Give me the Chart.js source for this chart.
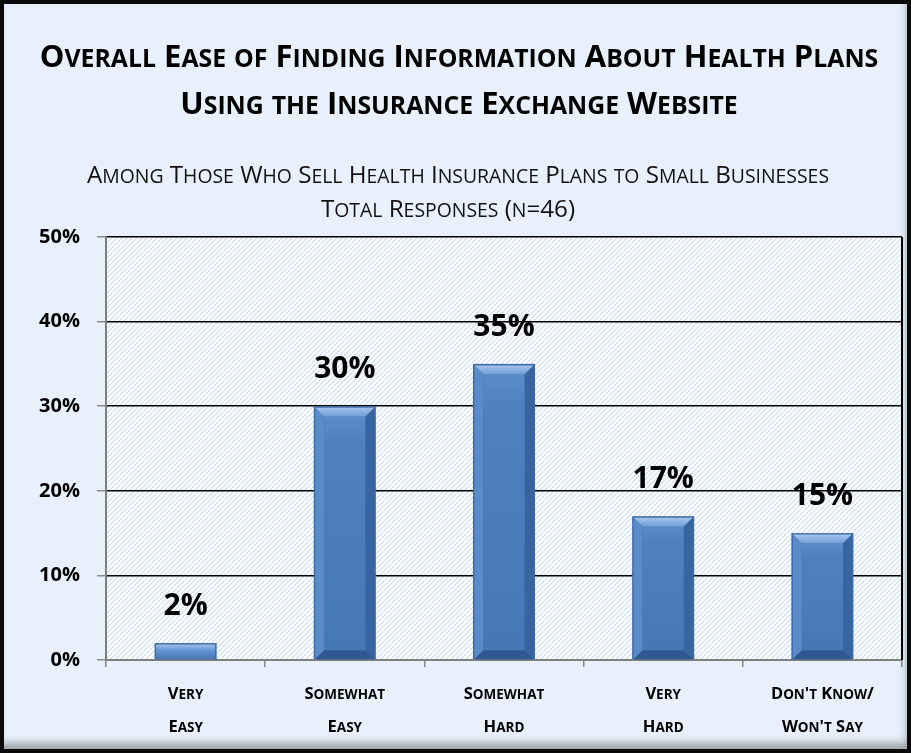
<!DOCTYPE html>
<html>
<head>
<meta charset="utf-8">
<script src="https://cdn.jsdelivr.net/npm/chart.js@4.4.1/dist/chart.umd.min.js"></script>
<style>
  body { margin: 0; background: #fff; }
  #frame {
    position: absolute; left: 0; top: 0; width: 911px; height: 753px;
    box-sizing: border-box; border: 4px solid #0a0a0a;
    background: #e8f1fb;
    box-shadow: inset -3px -9px 9px -3px rgba(60, 60, 60, 0.45);
  }
  canvas { position: absolute; left: 0; top: 0; }
</style>
</head>
<body>
<div id="frame"></div>
<canvas id="grafico" width="911" height="753"></canvas>
<script>
// Categorias e valores (%)
const categorias = [
  ['Very', 'Easy'],
  ['Somewhat', 'Easy'],
  ['Somewhat', 'Hard'],
  ['Very', 'Hard'],
  ["Don't Know/", "Won't Say"]
];
const percentuais = [2, 30, 35, 17, 15];
const tituloLinhas = ['Overall Ease of Finding Information About Health Plans', 'Using the Insurance Exchange Website'];
const subtituloLinhas = ['Among Those Who Sell Health Insurance Plans to Small Businesses', 'Total Responses (n=46)'];
const eixoY = { min: 0, max: 50, passo: 10 };

const FONTE = "'Open Sans', 'DejaVu Sans', sans-serif";

// escreve texto em versalete (minusculas viram maiusculas menores), centralizado em x
function versalete(ctx, texto, x, y, tam, peso, razao) {
  const partes = [];
  for (const ch of texto) {
    const pequeno = ch !== ch.toUpperCase();
    const ult = partes[partes.length - 1];
    if (ult && ult.pequeno === pequeno) ult.t += ch;
    else partes.push({ t: ch, pequeno });
  }
  const fonte = p => `${peso} ${p ? (tam * razao).toFixed(1) : tam}px ${FONTE}`;
  let larg = 0;
  partes.forEach(p => {
    ctx.font = fonte(p.pequeno);
    p.s = p.t.toUpperCase();
    p.w = ctx.measureText(p.s).width;
    larg += p.w;
  });
  let cx = x - larg / 2;
  ctx.textAlign = 'left';
  ctx.textBaseline = 'alphabetic';
  partes.forEach(p => {
    ctx.font = fonte(p.pequeno);
    ctx.fillText(p.s, cx, y);
    cx += p.w;
  });
}

// titulo, subtitulo e rotulos do eixo x
const textos = {
  id: 'textos',
  afterDraw(chart) {
    const { ctx } = chart;
    ctx.save();
    ctx.fillStyle = '#000';
    versalete(ctx, tituloLinhas[0], 459, 67, 31, 'bold', 0.8);
    versalete(ctx, tituloLinhas[1], 459, 114, 31, 'bold', 0.8);
    ctx.fillStyle = '#111';
    versalete(ctx, subtituloLinhas[0], 458, 183, 24.2, 'normal', 0.8);
    versalete(ctx, subtituloLinhas[1], 448, 217, 24.2, 'normal', 0.8);
    ctx.fillStyle = '#000';
    const xs = chart.scales.x;
    categorias.forEach((linhas, i) => {
      const px = xs.getPixelForTick(i);
      linhas.forEach((t, j) => versalete(ctx, t, px, 699 + j * 33, 16.5, 'bold', 0.82));
    });
    ctx.restore();
  }
};

// fundo hachurado da area do grafico
const hachura = {
  id: 'hachura',
  beforeDraw(chart) {
    const { ctx, chartArea: a } = chart;
    const t = document.createElement('canvas');
    t.width = t.height = 5;
    const g = t.getContext('2d');
    g.fillStyle = '#ffffff';
    g.fillRect(0, 0, 5, 5);
    g.strokeStyle = '#c8daf0';
    g.lineWidth = 1.1;
    g.beginPath();
    g.moveTo(-1, 6); g.lineTo(6, -1);
    g.moveTo(-3, 3); g.lineTo(3, -3);
    g.moveTo(2, 8); g.lineTo(8, 2);
    g.stroke();
    ctx.save();
    ctx.fillStyle = ctx.createPattern(t, 'repeat');
    ctx.fillRect(a.left, a.top, a.right - a.left, a.bottom - a.top);
    ctx.restore();
  }
};

// barras com efeito chanfrado + rotulos de valor
const chanfro = {
  id: 'chanfro',
  afterDatasetsDraw(chart) {
    const { ctx } = chart;
    const meta = chart.getDatasetMeta(0);
    meta.data.forEach((barra, i) => {
      const { x, y, base, width } = barra.getProps(['x', 'y', 'base', 'width'], true);
      const l = x - width / 2, r = x + width / 2, t = y, b = base;
      const h = b - t;
      const c = 9;
      ctx.save();
      // borda externa
      ctx.fillStyle = '#3d6ba6';
      ctx.fillRect(l, t, width, h);
      const e = 1.5;
      const L = l + e, R = r - e, T = t + e, B = b;
      if (h > 30) {
        // face superior
        let gr = ctx.createLinearGradient(0, T, 0, T + c);
        gr.addColorStop(0, '#a3c3ec');
        gr.addColorStop(1, '#729ed8');
        poly(ctx, [[L, T], [R, T], [R - c, T + c], [L + c, T + c]], gr);
        // face esquerda
        poly(ctx, [[L, T], [L + c, T + c], [L + c, B - c], [L, B]], '#5b8bc9');
        // face direita
        poly(ctx, [[R, T], [R, B], [R - c, B - c], [R - c, T + c]], '#37659f');
        // face inferior
        poly(ctx, [[L, B], [L + c, B - c], [R - c, B - c], [R, B]], '#2d5890');
        // face interna
        gr = ctx.createLinearGradient(0, T + c, 0, B - c);
        gr.addColorStop(0, '#5a8bcb');
        gr.addColorStop(0.12, '#4f81c1');
        gr.addColorStop(1, '#4677b6');
        ctx.fillStyle = gr;
        ctx.fillRect(L + c, T + c, R - L - 2 * c, B - T - 2 * c);
      } else {
        const gr = ctx.createLinearGradient(0, T, 0, B);
        gr.addColorStop(0, '#9cbfea');
        gr.addColorStop(0.4, '#6594d1');
        gr.addColorStop(1, '#4676b5');
        ctx.fillStyle = gr;
        ctx.fillRect(L, T, R - L, B - T);
      }
      // rotulo
      ctx.fillStyle = '#000';
      ctx.font = 'bold 30px ' + FONTE;
      ctx.textAlign = 'center';
      ctx.textBaseline = 'alphabetic';
      ctx.fillText(percentuais[i] + '%', x, t - 28);
      ctx.restore();
    });
  }
};

function poly(ctx, pts, cor) {
  ctx.beginPath();
  ctx.moveTo(pts[0][0], pts[0][1]);
  pts.slice(1).forEach(p => ctx.lineTo(p[0], p[1]));
  ctx.closePath();
  ctx.fillStyle = cor;
  ctx.fill();
}

// borda direita da area do grafico
const moldura = {
  id: 'moldura',
  afterDraw(chart) {
    const { ctx, chartArea: a } = chart;
    ctx.save();
    ctx.strokeStyle = '#000';
    ctx.lineWidth = 2;
    ctx.beginPath();
    ctx.moveTo(a.right, a.top);
    ctx.lineTo(a.right, a.bottom);
    ctx.stroke();
    ctx.restore();
  }
};

new Chart(document.getElementById('grafico'), {
  type: 'bar',
  data: {
    labels: categorias,
    datasets: [{
      label: 'Respostas',
      data: percentuais,
      backgroundColor: 'rgba(0,0,0,0)',
      barPercentage: 0.78,
      categoryPercentage: 0.5
    }]
  },
  plugins: [hachura, chanfro, moldura, textos],
  options: {
    responsive: false,
    animation: false,
    layout: { padding: { left: 0, right: 9, top: 237, bottom: 0 } },
    plugins: {
      legend: { display: false },
      tooltip: { enabled: false },
      title: { display: false }
    },
    scales: {
      x: {
        grid: { display: true, offset: true, drawOnChartArea: false, color: '#888', tickLength: 7, lineWidth: 1.5 },
        border: { color: '#7f7f7f', width: 2 },
        ticks: { color: 'rgba(0,0,0,0)', padding: 8, font: { family: FONTE, size: 16 } },
        afterFit(s) { s.height = 93; }
      },
      y: {
        min: eixoY.min,
        max: eixoY.max,
        grid: { color: '#000', lineWidth: 1.5, tickColor: '#888', tickLength: 9 },
        border: { color: '#7f7f7f', width: 2 },
        ticks: {
          stepSize: eixoY.passo,
          color: '#000',
          padding: 17,
          font: { family: FONTE, size: 20, weight: 'bold' },
          callback: v => v + '%'
        },
        afterFit(s) { s.width = 106; }
      }
    }
  }
});
</script>
</body>
</html>
